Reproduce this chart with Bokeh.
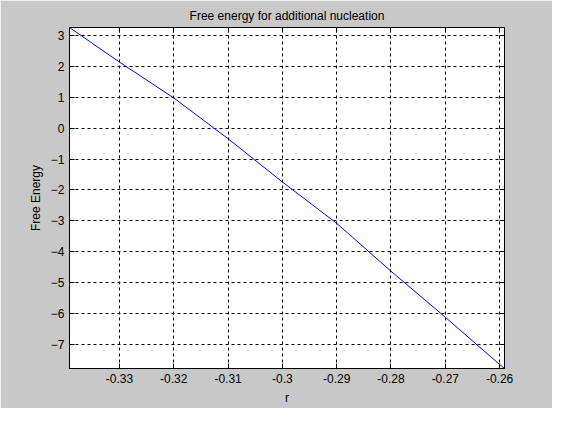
from bokeh.plotting import figure
from bokeh.models import Range1d, LinearAxis, FixedTicker, Label
from bokeh.embed import file_html
from bokeh.resources import INLINE

# free energy in units of 1e-4
r = [-0.3392, -0.33, -0.32, -0.31, -0.30, -0.29, -0.28, -0.27, -0.26, -0.2591]
energy = [3.26, 2.14, 0.98, -0.34, -1.74, -3.08, -4.63, -6.12, -7.65, -7.78]
x_ticks = [-0.33, -0.32, -0.31, -0.30, -0.29, -0.28, -0.27, -0.26]
y_ticks = [3, 2, 1, 0, -1, -2, -3, -4, -5, -6, -7]

FONT = "Liberation Sans"

p = figure(width=552, height=408, output_backend="svg", toolbar_location=None,
           x_range=Range1d(-0.3392, -0.2591), y_range=Range1d(-7.78, 3.26),
           min_border_left=69, min_border_top=27, min_border_right=48, min_border_bottom=40,
           background_fill_color="white", border_fill_color="#c8c8c8",
           title="Free energy for additional nucleation")
p.title.align = "center"
p.title.text_font = FONT
p.title.text_font_size = "12px"
p.title.text_font_style = "normal"
p.title.text_color = "black"
p.outline_line_color = "black"

p.line(r, energy, line_color="blue", line_width=1)

for ax in (p.xaxis[0], p.yaxis[0]):
    ax.major_label_text_font = FONT
    ax.major_label_text_font_size = "12px"
    ax.major_label_text_color = "black"
    ax.axis_label_text_font = FONT
    ax.axis_label_text_font_size = "12px"
    ax.axis_label_text_font_style = "normal"
    ax.axis_label_text_color = "black"
    ax.major_tick_in = 5
    ax.major_tick_out = 0
    ax.minor_tick_line_color = None
p.xaxis.ticker = FixedTicker(ticks=x_ticks)
p.yaxis.ticker = FixedTicker(ticks=y_ticks)
p.xaxis.axis_label = "r"
p.yaxis.axis_label = "Free Energy"
p.xaxis.major_label_overrides = {t: f"{t:g}" for t in x_ticks}

for loc, ticks in (("above", x_ticks), ("right", y_ticks)):
    a = LinearAxis(ticker=FixedTicker(ticks=ticks),
                   major_label_overrides={t: "" for t in ticks},
                   major_label_text_font_size="1px", major_tick_in=5, major_tick_out=0,
                   minor_tick_line_color=None, major_label_standoff=0)
    p.add_layout(a, loc)

p.grid.grid_line_color = "black"
p.grid.grid_line_dash = "3 3"
p.xgrid.ticker = FixedTicker(ticks=x_ticks)
p.ygrid.ticker = FixedTicker(ticks=y_ticks)

p.add_layout(Label(x=-0.3392, y=3.26, x_offset=0, y_offset=6, text="x 10",
                   text_font=FONT, text_font_size="12px", text_baseline="bottom"))
p.add_layout(Label(x=-0.3392, y=3.26, x_offset=26, y_offset=14, text="-4",
                   text_font=FONT, text_font_size="9px", text_baseline="bottom"))

open("out.html", "w").write(file_html(p, INLINE))
